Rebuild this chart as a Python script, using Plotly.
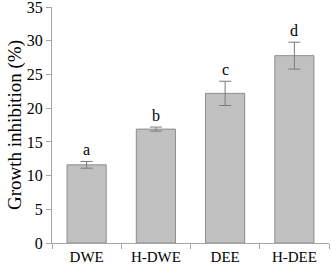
import plotly.graph_objects as go

categories = ["DWE", "H-DWE", "DEE", "H-DEE"]
values = [11.6, 16.9, 22.2, 27.8]
errors = [0.5, 0.3, 1.8, 2.0]
letters = ["a", "b", "c", "d"]
yticks = [0, 5, 10, 15, 20, 25, 30, 35]

font = "Liberation Serif, Times New Roman, serif"

fig = go.Figure()
fig.add_trace(go.Bar(
    x=categories, y=values,
    marker=dict(color="#c0c0c0", line=dict(color="#8c8c8c", width=1)),
    width=0.565,
    error_y=dict(type="data", array=errors, visible=True, color="#7a7a7a",
                 thickness=1, width=6),
))
for c, v, e, l in zip(categories, values, errors, letters):
    fig.add_annotation(x=c, y=v + e, text=l, showarrow=False, yshift=12,
                       font=dict(family=font, size=16, color="black"))

fig.update_layout(
    width=331, height=271,
    margin=dict(l=52, r=2, t=7, b=28),
    paper_bgcolor="white", plot_bgcolor="white",
    showlegend=False,
    font=dict(family=font, size=15, color="black"),
)
fig.update_xaxes(
    showline=True, linecolor="#a6a6a6", linewidth=1,
    ticks="outside", tickson="boundaries", ticklen=5, tickcolor="#a6a6a6",
    showgrid=False, tickfont=dict(family=font, size=15), automargin=False,
)
fig.update_yaxes(
    range=[0, 35.02], tickmode="array", tickvals=yticks,
    showline=True, linecolor="#a6a6a6", linewidth=1,
    ticks="outside", ticklen=5, tickcolor="#a6a6a6", showgrid=False,
    zeroline=False, automargin=False, ticklabeloverflow="allow",
    title=dict(text="Growth inhibition (%)", font=dict(family=font, size=19), standoff=0),
    tickfont=dict(family=font, size=16),
)
fig.write_html("out.html", config={"displayModeBar": False},
               post_script="document.body.style.margin='0';document.body.style.padding='0';")
